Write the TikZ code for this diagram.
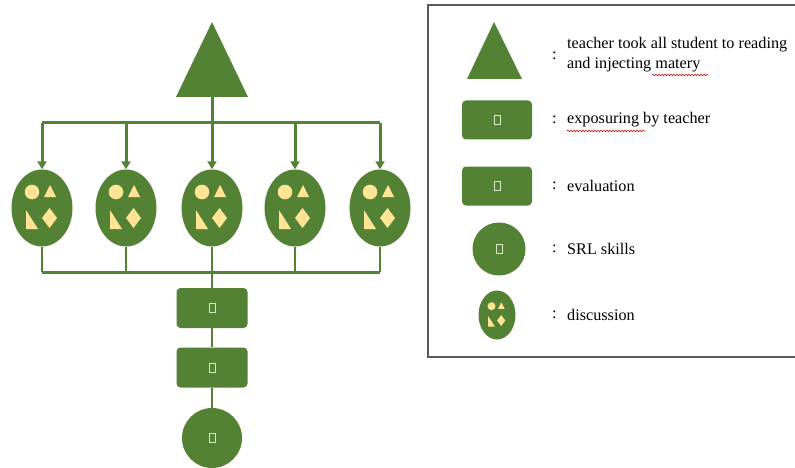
\documentclass[tikz,border=0pt]{standalone}
\usepackage{fontspec}
\setmainfont{Liberation Serif}
\usetikzlibrary{shapes.geometric,arrows.meta,decorations.pathmorphing}
\definecolor{leaf}{RGB}{84,130,53}
\definecolor{sand}{RGB}{255,228,150}
\definecolor{pale}{RGB}{214,234,200}
\tikzstyle{link}=[draw=leaf,line width=3pt]
\tikzstyle{thinlink}=[draw=leaf,line width=2pt]
\tikzstyle{arrow}=[link,-{Triangle[length=8pt,width=9pt]}]
\tikzstyle{group}=[ellipse,fill=leaf,minimum width=61pt,minimum height=77pt,inner sep=0pt]
\tikzstyle{stepbox}=[rectangle,rounded corners=4pt,fill=leaf,minimum width=71pt,minimum height=40pt,inner sep=0pt]
\tikzstyle{skill}=[circle,fill=leaf,inner sep=0pt]
\tikzstyle{glyph}=[draw=pale,line width=0.9pt,minimum width=6pt,minimum height=9pt,inner sep=0pt]
\tikzstyle{label}=[anchor=west,align=left,inner sep=0pt,font=\fontsize{16.2}{20}\selectfont]
\tikzstyle{spell}=[draw=red!80!black,line width=0.6pt,decorate,decoration={snake,amplitude=0.7pt,segment length=3pt}]

% the four little shapes inside a discussion group
\newcommand{\groupicons}[2]{%
  \begin{scope}[shift={(#1)},scale=#2]
    \fill[sand] (-10,-16) circle (7.3);
    \fill[sand] (2,-11) -- (14,-11) -- (8,-23) -- cycle;
    \fill[sand] (-16,2) -- (-16,21) -- (-4,21) -- cycle;
    \fill[sand] (7.5,0) -- (15,10) -- (7.5,20) -- (0,10) -- cycle;
  \end{scope}}

\begin{document}
\begin{tikzpicture}[x=1pt,y=-1pt]
	\useasboundingbox (0,0) rectangle (795,468);

	% teacher triangle
	\fill[leaf] (212,22) -- (248,97) -- (176,97) -- cycle;
	\coordinate (top) at (212,97);
	\coordinate (split) at (212,123);
	\draw[link] (top) -- (split);

	% discussion groups
	\foreach \x [count=\i] in {42,126,212,295,380} {
		\node[group] (g\i) at (\x,208) {};
		\groupicons{g\i}{1}
		\coordinate (in\i) at (\x,123);
		\coordinate (out\i) at (\x,272);
		\draw[arrow] (in\i) -- (g\i.north);
		\draw[thinlink] (g\i.south) -- (out\i);
	}
	\draw[link] (in1) -- (in5);
	\draw[link] (out1) -- (out5);

	% exposuring, evaluation, SRL skills
	\node[stepbox] (expo) at (212,308) {};
	\node[stepbox] (eval) at (212,367.5) {};
	\node[skill,minimum size=60pt] (srl) at (212,438) {};
	\foreach \n in {expo,eval,srl}
		\node[glyph] at (\n) {};
	\draw[thinlink] (out3) -- (expo.north);
	\draw[thinlink] (expo.south) -- (eval.north);
	\draw[thinlink] (eval.south) -- (srl.north);

	% legend
	\draw[black!65,line width=1.5pt] (428,5) rectangle (800,357);
	\fill[leaf] (494,22) -- (522,79) -- (467,79) -- cycle;
	\node[stepbox,minimum width=70pt,minimum height=39pt] (kexpo) at (497,120) {};
	\node[stepbox,minimum width=70pt,minimum height=39pt] (keval) at (497,186) {};
	\node[skill,minimum size=53pt] (ksrl) at (499,249) {};
	\node[group,minimum width=37pt,minimum height=49pt] (kdisc) at (497,315) {};
	\groupicons{kdisc}{0.55}
	\foreach \n in {kexpo,keval,ksrl}
		\node[glyph] at (\n) {};

	\node[label] (c1) at (552,56) {:};
	\node[label] (t1) at (567,55) {teacher took all student to reading\\and injecting matery};
	\node[label] (c2) at (552,120) {:};
	\node[label] (t2) at (567,120) {exposuring by teacher};
	\node[label] (c3) at (552,186) {:};
	\node[label] (t3) at (567,186) {evaluation};
	\node[label] (c4) at (552,249) {:};
	\node[label] (t4) at (567,249) {SRL skills};
	\node[label] (c5) at (552,315) {:};
	\node[label] (t5) at (567,315) {discussion};

	% spell check marks
	\draw[spell] (652,75) -- (708,75);
	\draw[spell] (567,131) -- (645,131);
\end{tikzpicture}
\end{document}
